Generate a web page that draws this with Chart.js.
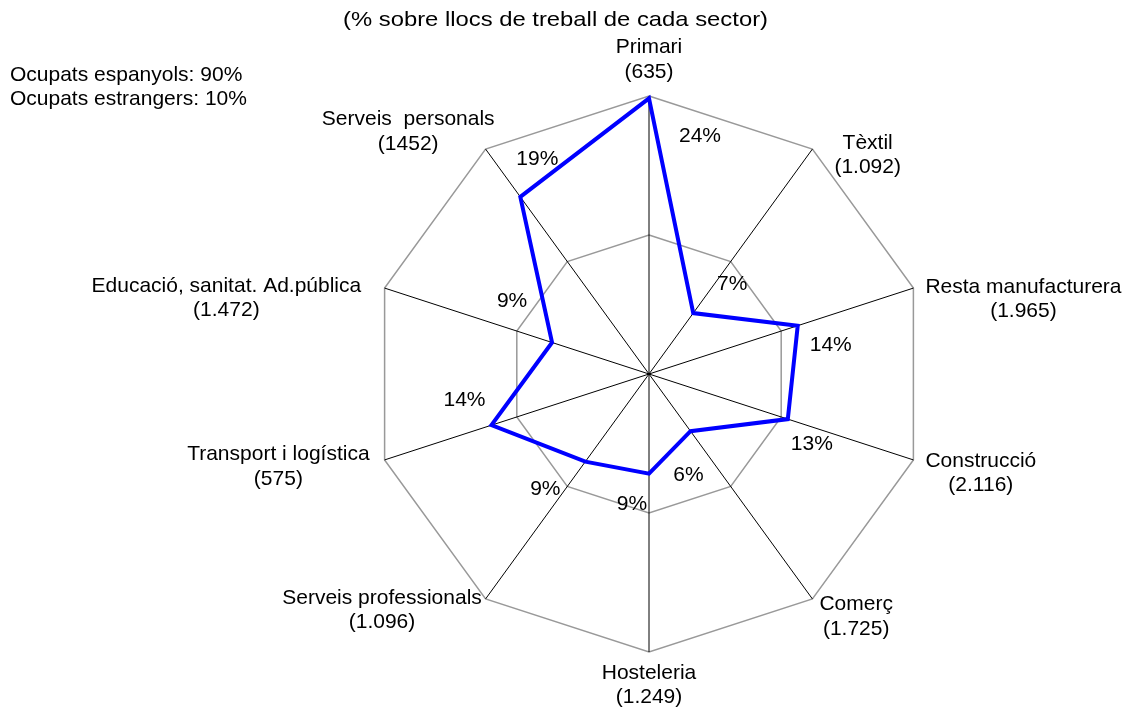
<!DOCTYPE html>
<html>
<head>
<meta charset="utf-8">
<script src="https://cdn.jsdelivr.net/npm/chart.js@4.4.1/dist/chart.umd.min.js"></script>
<style>
  html, body { margin: 0; padding: 0; background: #fff; }
  canvas { display: block; }
</style>
</head>
<body>
<canvas id="myChart" width="1136" height="708"></canvas>
<script>
// sectors and jobs per sector
const sectors = ['Primari', 'Tèxtil', 'Resta manufacturera', 'Construcció', 'Comerç',
  'Hosteleria', 'Serveis professionals', 'Transport i logística',
  'Educació, sanitat. Ad.pública', 'Serveis  personals'];
const jobs = ['635', '1.092', '1.965', '2.116', '1.725', '1.249', '1.096', '575', '1.472', '1452'];
// foreign workers, % of the jobs of each sector
const foreignShare = [23.8, 6.5, 13.5, 12.6, 6.1, 8.6, 9.35, 14.3, 8.8, 18.9];
const scaleMax = 24;
const scaleStep = 12;
const titleText = '(% sobre llocs de treball de cada sector)';
const noteLines = ['Ocupats espanyols: 90%', 'Ocupats estrangers: 10%'];

const FONT = '21px "Liberation Sans", Arial, sans-serif';

// where the sector labels sit, relative to the outer vertex
const labelPlace = [
  {align: 'center', dx: 0, dy: -42.7},
  {align: 'left', dx: 22, dy: -0.5},
  {align: 'left', dx: 12, dy: 4.7},
  {align: 'left', dx: 12, dy: 7},
  {align: 'left', dx: 7, dy: 11.4},
  {align: 'center', dx: 0, dy: 26.6},
  {align: 'right', dx: -3.8, dy: 4.7},
  {align: 'right', dx: -15, dy: 0.4},
  {align: 'right', dx: -23.4, dy: 3.9},
  {align: 'right', dx: 9, dy: -23.8}
];
// offsets of the % labels from their points
const valuePlace = [[51, 38], [39, -29], [33, 20], [24, 25], [-2, 44],
  [-17, 31], [-40, 28], [-27, -25], [-40, -41], [17, -38]];

const textPlugin = {
  id: 'texts',
  afterDraw(chart) {
    const ctx = chart.ctx;
    const r = chart.scales.r;
    ctx.save();
    ctx.fillStyle = '#000';
    ctx.font = FONT;
    ctx.textBaseline = 'alphabetic';

    // title (the original is stretched sideways)
    ctx.textAlign = 'center';
    ctx.save();
    ctx.translate(555.5, 25.5);
    ctx.scale(425 / ctx.measureText(titleText).width, 1);
    ctx.fillText(titleText, 0, 0);
    ctx.restore();

    // note top left
    ctx.textAlign = 'left';
    noteLines.forEach((t, i) => ctx.fillText(t, 10, 81 + i * 23.5));

    // sector labels
    ctx.textAlign = 'center';
    sectors.forEach((name, i) => {
      const p = r.getPointPositionForValue(i, r.max);
      const pl = labelPlace[i];
      const lines = [name, '(' + jobs[i] + ')'];
      const w = Math.max(...lines.map(l => ctx.measureText(l).width));
      let cx = p.x + pl.dx;
      if (pl.align === 'left') cx += w / 2;
      if (pl.align === 'right') cx -= w / 2;
      lines.forEach((l, k) => ctx.fillText(l, cx, p.y + pl.dy + k * 24.5));
    });

    // % labels
    const meta = chart.getDatasetMeta(0);
    ctx.textBaseline = 'middle';
    meta.data.forEach((pt, i) => {
      ctx.fillText(Math.round(foreignShare[i]) + '%', pt.x + valuePlace[i][0], pt.y + valuePlace[i][1]);
    });
    ctx.restore();
  }
};

const chart = new Chart(document.getElementById('myChart'), {
  type: 'radar',
  data: {
    labels: sectors,
    datasets: [{
      data: foreignShare,
      borderColor: '#0000FF',
      borderWidth: 4,
      pointRadius: 0,
      pointHoverRadius: 0,
      fill: false,
      tension: 0
    }]
  },
  options: {
    responsive: false,
    animation: false,
    devicePixelRatio: 1,
    layout: {
      padding: {top: 96, bottom: 56, left: 371, right: 209}
    },
    plugins: {
      legend: {display: false},
      tooltip: {enabled: false}
    },
    scales: {
      r: {
        min: 0,
        max: scaleMax,
        ticks: {display: false, stepSize: scaleStep},
        pointLabels: {display: false},
        grid: {color: '#999999', lineWidth: 1.5},
        angleLines: {color: '#000000', lineWidth: 1}
      }
    }
  },
  plugins: [textPlugin]
});
</script>
</body>
</html>
